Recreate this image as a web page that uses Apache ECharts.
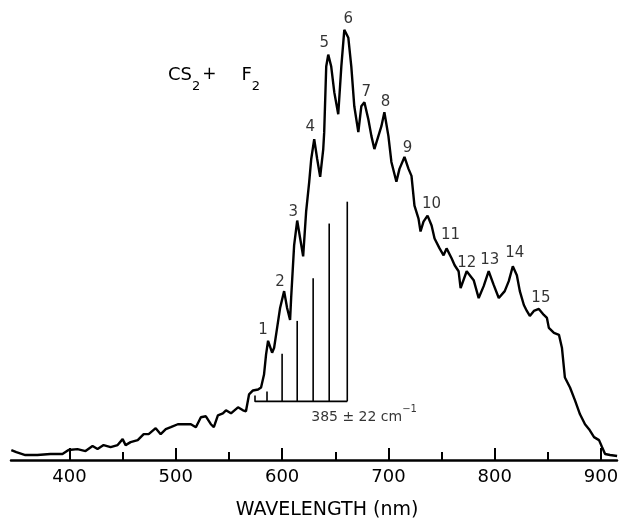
<!DOCTYPE html>
<html><head><meta charset="utf-8">
<script src="https://cdn.jsdelivr.net/npm/echarts@6/dist/echarts.min.js"></script>
<style>html,body{margin:0;padding:0;background:#fff}#c{width:622px;height:525px}</style>
</head><body><div id="c"></div>
<script>
// Emission spectrum (wavelength in nm, intensity in arbitrary units)
const wavelength = [345.3,350.0,358.5,369.8,382.1,393.4,399.1,407.5,415.1,421.7,426.4,432.1,438.7,445.3,450.0,452.8,457.5,464.2,469.8,474.5,481.1,485.8,490.6,495.3,501.9,507.5,514.2,518.9,523.6,528.3,533.0,535.8,539.6,544.3,547.2,551.9,558.5,563.2,566.0,568.9,572.6,577.4,580.2,583.0,584.9,586.8,590.6,592.5,595.3,598.1,601.9,604.7,607.5,608.5,611.3,614.2,617.0,619.8,622.6,625.5,627.4,630.2,633.0,635.8,638.7,639.6,641.5,643.4,646.2,649.1,652.8,655.7,658.5,659.4,662.3,665.1,667.9,671.7,674.5,677.4,681.1,684.0,686.8,693.4,696.2,700.0,702.8,707.5,710.4,715.1,718.9,721.7,724.5,728.3,730.2,733.0,736.8,740.6,743.4,748.1,751.9,754.7,759.4,762.3,766.0,767.9,773.6,780.2,784.9,789.6,794.3,799.1,803.8,809.4,813.2,817.0,820.8,823.6,827.4,830.2,833.0,836.8,841.5,846.2,849.1,850.9,855.7,860.4,863.2,866.0,870.8,875.5,880.2,884.9,888.7,893.4,898.1,900.9,903.8,908.5,915.1];
const intensity = [10,8,5,5,6,6,10,11,9,14,11,15,13,15,21,15,18,20,26,26,32,26,31,33,36,36,36,33,43,44,36,33,45,47,50,47,53,50,49,66,70,71,73,86,106,120,108,113,133,153,170,153,141,163,216,241,223,205,250,280,303,323,303,285,313,330,396,408,396,370,348,396,433,435,425,396,356,330,356,360,343,326,313,336,350,326,300,280,293,305,293,286,256,243,230,240,246,236,223,213,206,213,203,196,190,173,190,181,163,175,190,176,163,170,180,195,186,170,156,150,145,150,152,146,143,133,128,126,113,83,73,60,46,36,31,23,20,13,6,5,4];

// Peak numbering labels (label anchor in data coordinates)
const peakLabels = ['1','2','3','4','5','6','7','8','9','10','11','12','13','14','15'];
const peakLabelNm = [582.1,598.1,610.4,626.4,639.6,662.3,679.2,697.2,717.9,740.6,758.5,773.6,795.3,818.9,843.4];
const peakLabelI  = [131,179,250,335,420,444,370,360,314,258,226,198,201,208,163];

// Stick progression (385 ± 22 cm-1 spacing)
const stickNm  = [585.8,600.0,614.2,629.2,644.3,661.3];
const stickTop = [69,107,140,183,238,260];
const stickBase = 59;
const bracketNm = [574.5,574.5,661.3];
const bracketI  = [65,59,59];
const spacingNm = 627.4, spacingI = 46;

const majorTicks = [400,500,600,700,800,900];
const minorTicks = [450,550,650,750,850];

const chart = echarts.init(document.getElementById('c'), null, {renderer:'canvas'});
const FONT = 'DejaVu Sans';
chart.setOption({
  animation:false,
  backgroundColor:'#fff',
  title:{
    text:'{a|CS}{s|2}{p|+}{f|F}{s|2}',
    left:163, top:61,
    textStyle:{fontWeight:'normal',rich:{
      a:{fontFamily:FONT,fontSize:18,fontWeight:'normal',color:'#000',lineHeight:18,verticalAlign:'top'},
      p:{fontFamily:FONT,fontSize:17,fontWeight:'normal',color:'#000',lineHeight:21,verticalAlign:'top',padding:[0,0,0,2]},
      f:{fontFamily:FONT,fontSize:18,fontWeight:'normal',color:'#000',lineHeight:18,verticalAlign:'top',padding:[0,0,0,25]},
      s:{fontFamily:FONT,fontSize:13,fontWeight:'normal',color:'#000',lineHeight:42,verticalAlign:'middle'}
    }}
  },
  grid:{left:11,right:5,top:0,bottom:62},
  xAxis:[{
    type:'value',min:345,max:915,
    axisLine:{lineStyle:{color:'#000',width:2.5}},
    axisTick:{inside:true,length:12,customValues:majorTicks,lineStyle:{color:'#000',width:2}},
    axisLabel:{customValues:majorTicks,color:'#000',fontFamily:FONT,fontSize:18,margin:8},
    splitLine:{show:false},
    name:'WAVELENGTH (nm)',nameLocation:'middle',nameGap:41,
    nameTextStyle:{color:'#000',fontFamily:FONT,fontSize:19,padding:[0,0,0,26]}
  },{
    type:'value',min:345,max:915,position:'bottom',
    axisLine:{show:false},
    axisTick:{inside:true,length:8,customValues:minorTicks,lineStyle:{color:'#000',width:2}},
    axisLabel:{show:false},splitLine:{show:false}
  }],
  yAxis:{type:'value',min:0,max:463,show:false},
  series:[
    {type:'line',xAxisIndex:0,data:wavelength.map((x,i)=>[x,intensity[i]]),showSymbol:false,symbol:'none',
     lineStyle:{color:'#000',width:2.4},z:3},
    {type:'custom',xAxisIndex:0,data:stickNm.map((x,i)=>[x,stickTop[i]]),
     renderItem:function(params,api){
       const p0=api.coord([api.value(0),stickBase]);
       const p1=api.coord([api.value(0),api.value(1)]);
       return {type:'line',shape:{x1:p0[0],y1:p0[1],x2:p1[0],y2:p1[1]},style:{stroke:'#000',lineWidth:1.6}};
     }},
    {type:'line',xAxisIndex:0,data:bracketNm.map((x,i)=>[x,bracketI[i]]),symbol:'none',
     lineStyle:{color:'#000',width:1.6}},
    {type:'scatter',xAxisIndex:0,clip:false,symbolSize:0,
     data:peakLabels.map((t,i)=>({name:t,value:[peakLabelNm[i],peakLabelI[i]]})),
     label:{show:true,position:'inside',formatter:'{b}',color:'#000',fontFamily:FONT,fontSize:15}},
    {type:'scatter',xAxisIndex:0,clip:false,symbolSize:0,
     data:[{name:'385 ± 22 cm',value:[spacingNm,spacingI]}],
     label:{show:true,position:[0,0],align:'left',verticalAlign:'middle',
       formatter:'{t|{b}}{u|−1}',
       rich:{t:{fontFamily:FONT,fontSize:14,color:'#000',lineHeight:20,verticalAlign:'bottom'},
             u:{fontFamily:FONT,fontSize:10,color:'#000',lineHeight:10,verticalAlign:'top'}}}}
  ]
});
</script></body></html>
